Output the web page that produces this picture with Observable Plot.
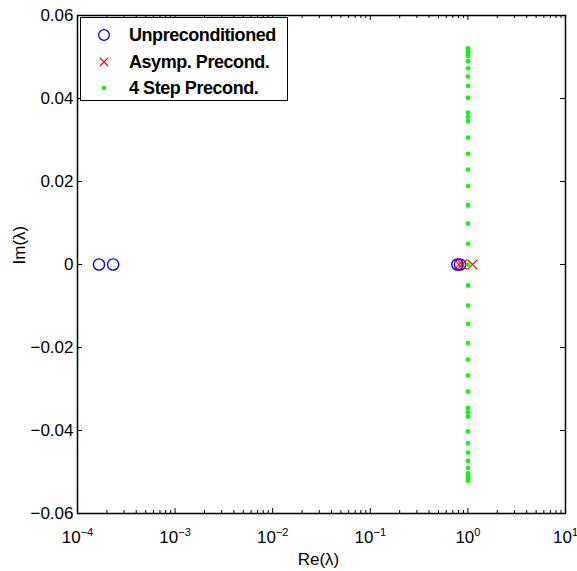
<!DOCTYPE html>
<html>
<head>
<meta charset="utf-8">
<script src="https://cdn.jsdelivr.net/npm/d3@7"></script>
<script src="https://cdn.jsdelivr.net/npm/@observablehq/plot@0.6"></script>
<style>
  body { margin: 0; background: #fff; color: #000; }
  #wrap { position: relative; width: 577px; height: 571px; font-family: "Liberation Sans", Arial, sans-serif; }
  #legend { position: absolute; left: 80px; top: 17px; width: 208px; height: 84px; border: 1.3px solid #000; background: #fff; box-sizing: border-box; }
  .row { position: absolute; left: 0; height: 24px; display: flex; align-items: center; }
  .row svg { width: 48px; height: 24px; }
  .row span { font-weight: bold; font-size: 18px; letter-spacing: -0.45px; white-space: nowrap; }
</style>
</head>
<body>
<div id="wrap"></div>
<script>
// ---- data ----
const seriesNames = ["Unpreconditioned", "Asymp. Precond.", "4 Step Precond."];
const seriesColors = ["#0000ff", "#ff0000", "#00ff00"];

const unpreRe = [0.000166, 0.000232, 0.78, 0.83];
const unpreIm = [0, 0, 0, 0];

const asympRe = [0.81, 0.87, 1.115];
const asympIm = [0, 0, 0];

const stepIm = [
  0.0521, 0.0516, 0.0510, 0.0503, 0.0490, 0.0473, 0.0453, 0.0430, 0.0402, 0.0366,
  0.0356, 0.0346, 0.0306, 0.0267, 0.0229, 0.0189, 0.0143, 0.0099, 0.0050, 0,
  -0.0050, -0.0099, -0.0143, -0.0189, -0.0229, -0.0267, -0.0306, -0.0346, -0.0356, -0.0366,
  -0.0402, -0.0430, -0.0453, -0.0473, -0.0490, -0.0503, -0.0510, -0.0516, -0.0521
];
const stepRe = [
  1.0, 1.0, 1.0, 1.0, 1.0, 1.0, 1.0, 1.0, 1.0, 1.0,
  1.0, 1.0, 1.0, 1.0, 1.0, 1.0, 1.0, 1.0, 1.0, 1.0,
  1.0, 1.0, 1.0, 1.0, 1.0, 1.0, 1.0, 1.0, 1.0, 1.0,
  1.0, 1.0, 1.0, 1.0, 1.0, 1.0, 1.0, 1.0, 1.0
];

const xMajorTicks = [1e-4, 1e-3, 1e-2, 1e-1, 1, 10];
const xTickLabels = ["10^-4", "10^-3", "10^-2", "10^-1", "10^0", "10^1"];
const yTicks = [-0.06, -0.04, -0.02, 0, 0.02, 0.04, 0.06];
const yTickLabels = ["\u22120.06", "\u22120.04", "\u22120.02", "0", "0.02", "0.04", "0.06"];
const xLabel = "Re(\u03bb)";
const yLabel = "Im(\u03bb)";

// minor ticks of the log axis: 2..9 within each decade
const xMinorTicks = [];
for (let k = 0; k < xMajorTicks.length - 1; k++) {
  for (let m = 2; m <= 9; m++) xMinorTicks.push(m * xMajorTicks[k]);
}

// ---- layout ----
const W = 577, H = 571;
const mL = 77, mR = 12, mT = 15, mB = 58;
const fw = W - mL - mR, fh = H - mT - mB;
const fontFam = '"Liberation Sans", Arial, sans-serif';

const unpre = unpreRe.map((x, i) => ({x, y: unpreIm[i]}));
const asymp = asympRe.map((x, i) => ({x, y: asympIm[i]}));
const step = stepRe.map((x, i) => ({x, y: stepIm[i]}));

const chart = Plot.plot({
  width: W, height: H,
  marginLeft: mL, marginRight: mR, marginTop: mT, marginBottom: mB,
  style: {fontFamily: fontFam, color: "#000", background: "#fff", overflow: "visible"},
  x: {type: "log", domain: [1e-4, 10]},
  y: {domain: [-0.06, 0.06]},
  marks: [
    // ticks inside the box
    Plot.tickX(xMajorTicks, {x: d => d, stroke: "#000", strokeWidth: 1, insetTop: fh - 5}),
    Plot.tickX(xMajorTicks, {x: d => d, stroke: "#000", strokeWidth: 1, insetBottom: fh - 5}),
    Plot.tickX(xMinorTicks, {x: d => d, stroke: "#000", strokeWidth: 1, insetTop: fh - 3}),
    Plot.tickX(xMinorTicks, {x: d => d, stroke: "#000", strokeWidth: 1, insetBottom: fh - 3}),
    Plot.tickY(yTicks, {y: d => d, stroke: "#000", strokeWidth: 1, insetRight: fw - 5}),
    Plot.tickY(yTicks, {y: d => d, stroke: "#000", strokeWidth: 1, insetLeft: fw - 5}),
    Plot.axisX(xMajorTicks, {tickSize: 0, tickPadding: 17, fontSize: 17, label: null,
      tickFormat: d => xTickLabels[xMajorTicks.indexOf(d)]}),
    Plot.axisY(yTicks, {tickSize: 0, tickPadding: 4, fontSize: 17, label: null,
      tickFormat: d => yTickLabels[yTicks.indexOf(d)]}),
    Plot.text([xLabel], {frameAnchor: "bottom", dy: 46, dx: -3, fontSize: 17, lineAnchor: "middle"}),
    Plot.text([yLabel], {frameAnchor: "left", dx: -58, rotate: -90, fontSize: 17, lineAnchor: "middle"}),
    // data
    Plot.dot(unpre, {x: "x", y: "y", r: 5.6, stroke: seriesColors[0], strokeWidth: 1.4, fill: "none"}),
    Plot.dot(asymp, {x: "x", y: "y", r: 4.5, symbol: "times", stroke: seriesColors[1], strokeWidth: 1.2}),
    Plot.dot(step, {x: "x", y: "y", r: 2.3, fill: seriesColors[2], stroke: "none"}),
    Plot.frame({stroke: "#000", strokeWidth: 1.5})
  ]
});

// superscript exponents on the log-axis labels
chart.querySelectorAll('[aria-label="x-axis tick label"] text').forEach(t => {
  const s = t.textContent;
  if (!s.includes("^")) return;
  const [base, exp] = s.split("^");
  t.textContent = "";
  const ns = "http://www.w3.org/2000/svg";
  const b = document.createElementNS(ns, "tspan");
  b.textContent = base;
  const e = document.createElementNS(ns, "tspan");
  e.textContent = exp.replace("-", "\u2212");
  e.setAttribute("dy", "-0.6em");
  e.setAttribute("font-size", "11");
  t.appendChild(b); t.appendChild(e);
});

const wrap = document.getElementById("wrap");
wrap.appendChild(chart);

// legend (inside the axes box, top-left)
const legend = document.createElement("div");
legend.id = "legend";
const rowTops = [5, 32, 58];
seriesNames.forEach((name, i) => {
  const row = document.createElement("div");
  row.className = "row";
  row.style.top = rowTops[i] + "px";
  let sym;
  if (i === 0) sym = `<circle cx="23" cy="12" r="5.3" fill="none" stroke="${seriesColors[0]}" stroke-width="1.3"/>`;
  else if (i === 1) sym = `<path d="M19,8L27,16M27,8L19,16" stroke="${seriesColors[1]}" stroke-width="1.1"/>`;
  else sym = `<circle cx="23" cy="12" r="2.2" fill="${seriesColors[2]}"/>`;
  row.innerHTML = `<svg viewBox="0 0 48 24">${sym}</svg><span>${name}</span>`;
  legend.appendChild(row);
});
wrap.appendChild(legend);
</script>
</body>
</html>
